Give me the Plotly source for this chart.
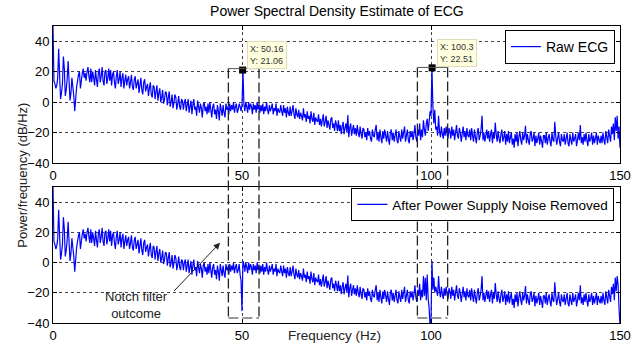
import numpy as np
import plotly.graph_objects as go
from plotly.subplots import make_subplots

# ---------------- data (0.25 Hz resolution) ----------------
freq_step = 0.25
psd_raw = [
    50, 14, 12, 9, 11, 16, 35, 18, 2, 6, 12, 30, 22, 4, 8, 15, 27, 14, 1, 6,
    16, 10, 4, -6, 2, 10, 14, 18, 20, 9, 14, 19, 22, 16, 19, 14, 20, 23, 17, 13,
    22, 13, 20, 16, 11, 21, 15, 10, 19, 22, 13, 17, 23, 14, 11, 20, 21, 12, 16, 22,
    14, 21, 11, 18, 20, 13, 9, 17, 21, 12, 15, 20, 10, 16, 19, 9, 14, 18, 11, 15,
    17, 9, 13, 18, 10, 8, 15, 17, 9, 12, 15, 6, 11, 16, 8, 5, 13, 15, 7, 10,
    12, 4, 9, 13, 5, 3, 11, 10, 2, 7, 11, 1, 6, 9, 0, 3, 8, -1, 2, 7,
    6, -2, 3, 7, -3, 0, 5, -4, 0, 5, 3, -5, -1, 4, -3, -5, 2, 1, -5, 0,
    2, -6, -2, 2, -7, -3, 1, -8, -2, 2, -5, -3, -9, 1, -3, -7, -1, -4, -10, -2,
    0, -6, -3, -8, -1, -7, 0, -5, -10, -3, -1, -8, -5, -11, -2, -6, -12, -1, -5, -9,
    -2, -7, -10, -1, -5, -3, -8, -1, -6, -2, -5, 0, -7, -3, -1, -7, -5, -1, -3, -6,
    -2, 21.06, -1, -6, 0, -3, -7, 0, -5, -1, -3, -8, -1, -5, -2, -7, 0, -5, -2, -7,
    -2, -6, -1, -8, -3, -6, 0, -5, -8, -2, -6, -4, -1, -8, -4, -6, -1, -9, -4, -6,
    -7, -2, -6, -9, -2, -7, -4, -10, -3, -7, -9, -3, -9, -6, -2, -8, -11, -4, -8, -10,
    -5, -11, -7, -9, -12, -4, -10, -8, -13, -6, -11, -9, -14, -6, -11, -13, -7, -15, -10, -12,
    -13, -8, -15, -11, -16, -12, -8, -16, -13, -9, -17, -12, -15, -18, -11, -10, -17, -14, -19, -12,
    -15, -19, -12, -19, -15, -21, -16, -13, -21, -17, -14, -20, -8.5, -23, -17, -14, -22, -18, -15, -21,
    -17, -22, -15, -20, -23, -16, -21, -24, -17, -18, -23, -20, -25, -17, -22, -19, -24, -26, -18, -22,
    -23, -18, -15, -25, -20, -26, -18, -23, -27, -19, -24, -18, -22, -26, -19, -24, -28, -20, -18, -25,
    -20, -26, -22, -18, -25, -27, -19, -23, -26, -18, -24, -20, -16, -26, -22, -18, -25, -27, -19, -23,
    -19, -25, -21, -15, -23, -26, -18, -22, -14, -25, -18, -23, -12, -18, -22, -14, -11, -19, -13, -6,
    -9, 22.51, -3, -14, -5, -18, -16, -22, -9, -19, -23, -16, -21, -24, -17, -22, -16, -21, -24, -17,
    -19, -24, -16, -22, -18, -25, -20, -15, -22, -24, -17, -20, -26, -21, -16, -23, -19, -25, -17, -22,
    -23, -18, -25, -17, -22, -26, -18, -23, -27, -20, -17, -25, -22, -18, -9, -25, -20, -26, -22, -18,
    -24, -19, -26, -21, -18, -27, -20, -24, -13.5, -21, -26, -19, -24, -27, -21, -18, -26, -23, -19, -28,
    -21, -26, -19, -27, -23, -20, -28, -24, -30, -21, -26, -20, -29, -23, -19, -25, -28, -20, -25, -22,
    -15.5, -27, -21, -25, -28, -21, -19, -26, -24, -20, -29, -22, -27, -24, -20, -28, -22, -26, -30, -22,
    -22, -27, -20, -28, -24, -21, -26, -29, -20, -25, -26, -13, -22, -28, -24, -20, -26, -29, -21, -25,
    -26, -21, -28, -24, -20, -27, -29, -21, -25, -28, -20, -26, -24, -21, -29, -25, -20, -25, -15, -27,
    -23, -28, -21, -26, -20, -25, -29, -21, -26, -24, -20, -28, -22, -27, -24, -20, -28, -22, -25, -27,
    -22, -27, -20, -25, -28, -19, -23, -27, -18, -22, -26, -16, -21, -14, -25, -10, -19, -9, -24, -16,
    -30,
]

# filtered spectrum: identical to raw except around the notches
after_freqs = [49.5, 49.75, 50.0, 50.25, 98.0, 98.25, 98.5, 98.75, 99.0, 99.25, 99.5, 99.75,
               100.0, 100.25, 100.5, 100.75, 101.0, 101.25, 101.5, 101.75, 102.0, 149.5, 149.75, 150.0]
after_vals = [-8, -12, -32, 1, -9, -22, -10, -25, -8, -24, -30, -42,
              -38, 1, -18, -10, -20, -16, -19, -22, -9, -15, -30, -42]

tip_x = [50.16, 100.3]
tip_y = [21.06, 22.51]
tip_labels = ["X: 50.16<br>Y: 21.06", "X: 100.3<br>Y: 22.51"]

x_ticks = [0, 50, 100, 150]
y_ticks = [-40, -20, 0, 20, 40]

# ---------------- build ----------------
assert len(psd_raw) == 601, len(psd_raw)
freqs = np.arange(len(psd_raw)) * freq_step
psd_after = list(psd_raw)
idx = {round(f, 2): i for i, f in enumerate(freqs)}
for f, v in zip(after_freqs, after_vals):
    psd_after[idx[round(f, 2)]] = v

FONT = "Liberation Sans, Arial, sans-serif"
BLUE = "#0000FF"

top_dom = [0.5387, 1.0]
bot_dom = [0.0, 0.4579]
YMIN, YMAX = -40, 50

fig = make_subplots(rows=2, cols=1, shared_xaxes=False, vertical_spacing=0.08)

fig.add_trace(go.Scatter(x=freqs, y=psd_raw, mode="lines", name="Raw ECG",
                         line=dict(color=BLUE, width=1.2, simplify=False), legend="legend"),
              row=1, col=1)
fig.add_trace(go.Scatter(x=freqs, y=psd_after, mode="lines", name="After Power Supply Noise Removed",
                         line=dict(color=BLUE, width=1.2, simplify=False), legend="legend2"),
              row=2, col=1)
fig.add_trace(go.Scatter(x=tip_x, y=tip_y, mode="markers", showlegend=False,
                         marker=dict(symbol="square", size=7, color="black")), row=1, col=1)

axis_common = dict(showline=True, linecolor="black", linewidth=1, mirror="ticks",
                   ticks="inside", ticklen=4, tickcolor="black",
                   showgrid=True, gridcolor="#444", griddash="dot", gridwidth=1,
                   zeroline=False, automargin=False,
                   tickfont=dict(family=FONT, size=13, color="black"))

for ax in ["xaxis", "xaxis2"]:
    fig.layout[ax].update(range=[0, 150], tickvals=x_ticks, **axis_common)
fig.layout.yaxis.update(domain=top_dom, range=[YMIN, YMAX], tickvals=y_ticks, **axis_common)
fig.layout.yaxis2.update(domain=bot_dom, range=[YMIN, YMAX], tickvals=y_ticks, **axis_common)


def paper_y(val, dom):
    return dom[0] + (val - YMIN) / (YMAX - YMIN) * (dom[1] - dom[0])


# dashed boxes around the 50 Hz and 100 Hz regions spanning both panels
boxes = [(46.4, 54.5, 22.0, -36.7), (96.4, 104.4, 22.8, -36.7)]
dash_style = dict(color="#222", width=1.3, dash="10px,4px")
for x0, x1, ytop, ybot in boxes:
    yt = paper_y(ytop, top_dom)
    yb = paper_y(ybot, bot_dom)
    for xv in (x0, x1):
        fig.add_shape(type="line", xref="x", yref="paper", x0=xv, x1=xv, y0=yt, y1=yb,
                      line=dash_style)
    fig.add_shape(type="line", xref="x", yref="paper", x0=x0, x1=x1, y0=yt, y1=yt,
                  line=dict(color="#555", width=1))
    fig.add_shape(type="line", xref="x", yref="paper", x0=x0, x1=x1, y0=yb, y1=yb,
                  line=dict(color="#777", width=1.3, dash="10px,4px"))

# data tips
tip_pos = [(51.2, 40.0), (101.5, 41.3)]
for (ax_, ay_), lbl in zip(tip_pos, tip_labels):
    fig.add_annotation(x=ax_, y=ay_, xref="x", yref="y", text=lbl, showarrow=False,
                       xanchor="left", yanchor="top", align="left",
                       font=dict(family=FONT, size=9, color="#333"),
                       bgcolor="#FFFFE0", bordercolor="#DDDDB8", borderwidth=1, borderpad=2)

# notch filter annotation
fig.add_annotation(x=22.2, y=-28, xref="x2", yref="y2", text="Notch filter<br>outcome",
                   showarrow=False, font=dict(family=FONT, size=13, color="#222"))
fig.add_annotation(x=44.2, y=13.1, ax=31.7, ay=-19.7, xref="x2", yref="y2",
                   axref="x2", ayref="y2", text="", showarrow=True,
                   arrowhead=2, arrowsize=1.3, arrowwidth=1, arrowcolor="#222")

# axis titles
fig.add_annotation(x=-0.072, y=0.498, xref="paper", yref="paper", text="Power/frequency (dB/Hz)",
                   textangle=-90, showarrow=False, font=dict(family=FONT, size=13, color="#222"))
fig.add_annotation(x=0.497, y=-0.074, xref="paper", yref="paper", text="Frequency (Hz)",
                   showarrow=False, font=dict(family=FONT, size=13.5, color="#222"))

fig.update_layout(
    width=643, height=355,
    margin=dict(l=53, r=23, t=26, b=32),
    paper_bgcolor="white", plot_bgcolor="white",
    title=dict(text="Power Spectral Density Estimate of ECG", x=0.524, xanchor="center",
               y=0.969, yanchor="middle", yref="container",
               font=dict(family=FONT, size=14, color="black")),
    legend=dict(x=0.991, y=0.9865, xanchor="right", yanchor="top",
                bgcolor="white", bordercolor="black", borderwidth=1,
                font=dict(family=FONT, size=14, color="black"), itemwidth=30,
                tracegroupgap=0),
    legend2=dict(x=0.99, y=0.4545, xanchor="right", yanchor="top",
                 bgcolor="white", bordercolor="black", borderwidth=1,
                 font=dict(family=FONT, size=13.5, color="black"), itemwidth=30),
    showlegend=True,
)

fig.write_html("out.html", config={"displayModeBar": False},
               post_script="document.body.style.margin='0';document.body.style.overflow='hidden';")
